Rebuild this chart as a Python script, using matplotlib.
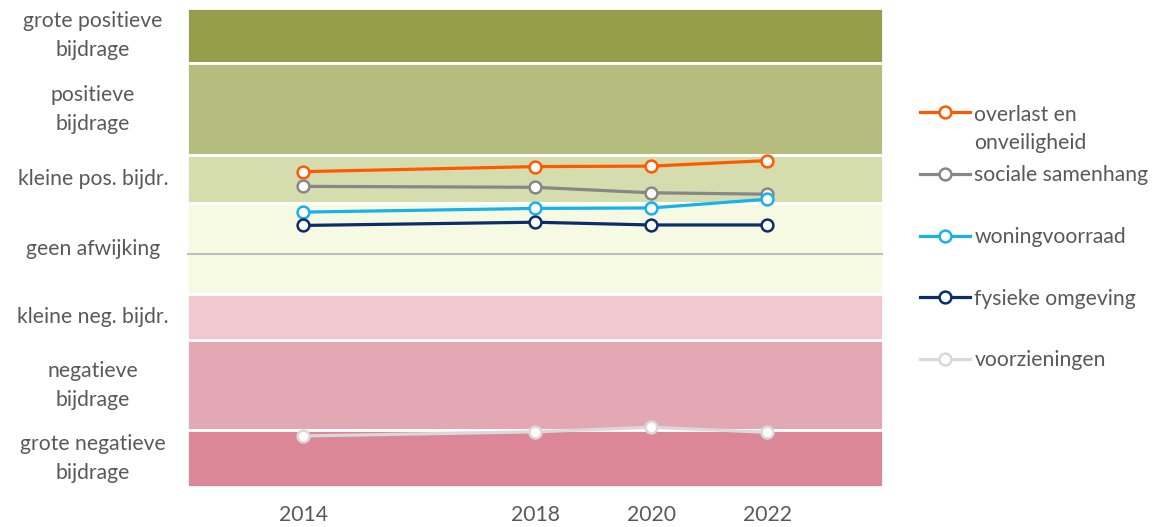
import matplotlib
matplotlib.use("Agg")
import matplotlib.pyplot as plt

# ---- data ----
years = [2014, 2018, 2020, 2022]
overlast = [1.79, 1.90, 1.91, 2.03]
sociale = [1.47, 1.45, 1.33, 1.30]
woning = [0.91, 0.99, 1.00, 1.19]
fysiek = [0.62, 0.69, 0.63, 0.63]
voorzieningen = [-3.96, -3.87, -3.77, -3.88]

series_names = ["overlast en\nonveiligheid", "sociale samenhang", "woningvoorraad",
                "fysieke omgeving", "voorzieningen"]
series_colors = ["#FF5A00", "#878787", "#17B1EC", "#0C2D6B", "#D9D9D9"]

band_labels = ["grote positieve\nbijdrage", "positieve\nbijdrage", "kleine pos. bijdr.",
               "geen afwijking", "kleine neg. bijdr.", "negatieve\nbijdrage",
               "grote negatieve\nbijdrage"]
band_edges = [5.35, 4.15, 2.15, 1.10, -0.88, -1.87, -3.84, -5.07]
band_colors = ["#969E4C", "#B4BC7E", "#D5DCAE", "#F7FAE3", "#F2C8D0", "#E4A8B4", "#DC8797"]

plt.rcParams['font.family'] = ['Lato', 'DejaVu Sans']
TXT = "#595959"
FS = 15.2

fig = plt.figure(figsize=(11.56, 5.27), dpi=100)
ax = fig.add_axes([187/1156, 1-487/527, 696/1156, 479/527])

for i, lab in enumerate(band_labels):
    hi, lo = band_edges[i], band_edges[i+1]
    ax.axhspan(lo, hi, facecolor=band_colors[i], edgecolor="white", linewidth=2, zorder=1)
    ax.text(-0.135, (hi+lo)/2, lab, transform=ax.get_yaxis_transform(), ha="center",
            va="center", fontsize=FS, color=TXT, linespacing=1.56)

ax.axhline(0, color="#BFBFBF", linewidth=1.5, zorder=2)

handles = []
for vals, name, col in zip([overlast, sociale, woning, fysiek, voorzieningen],
                           series_names, series_colors):
    h, = ax.plot(years, vals, color=col, lw=2.3, marker="o", ms=8.5,
                 mfc="white", mec=col, mew=1.8, label=name, zorder=3)
    handles.append(h)

ax.set_xlim(2012, 2024)
ax.set_ylim(band_edges[-1], band_edges[0])
ax.set_xticks(years)
ax.set_yticks([])
ax.tick_params(axis="x", length=0, labelsize=FS, labelcolor=TXT, pad=13)
for s in ax.spines.values():
    s.set_visible(False)

common = dict(loc="upper left", frameon=False, borderpad=0, borderaxespad=0,
              handlelength=2.35, handletextpad=0.22, fontsize=FS, labelcolor=TXT)
leg1 = fig.legend(handles[:1], series_names[:1], bbox_to_anchor=(920/1156, 1-105/527), **common)
leg1.get_texts()[0].set_linespacing(1.47)
try:
    leg1._legend_handle_box.get_children()[0].get_children()[0].align = "top"
except Exception:
    pass
leg2 = fig.legend(handles[1:], series_names[1:], bbox_to_anchor=(920/1156, 1-165.5/527),
                  labelspacing=1.97, **common)

fig.savefig("out.png", dpi=100)
